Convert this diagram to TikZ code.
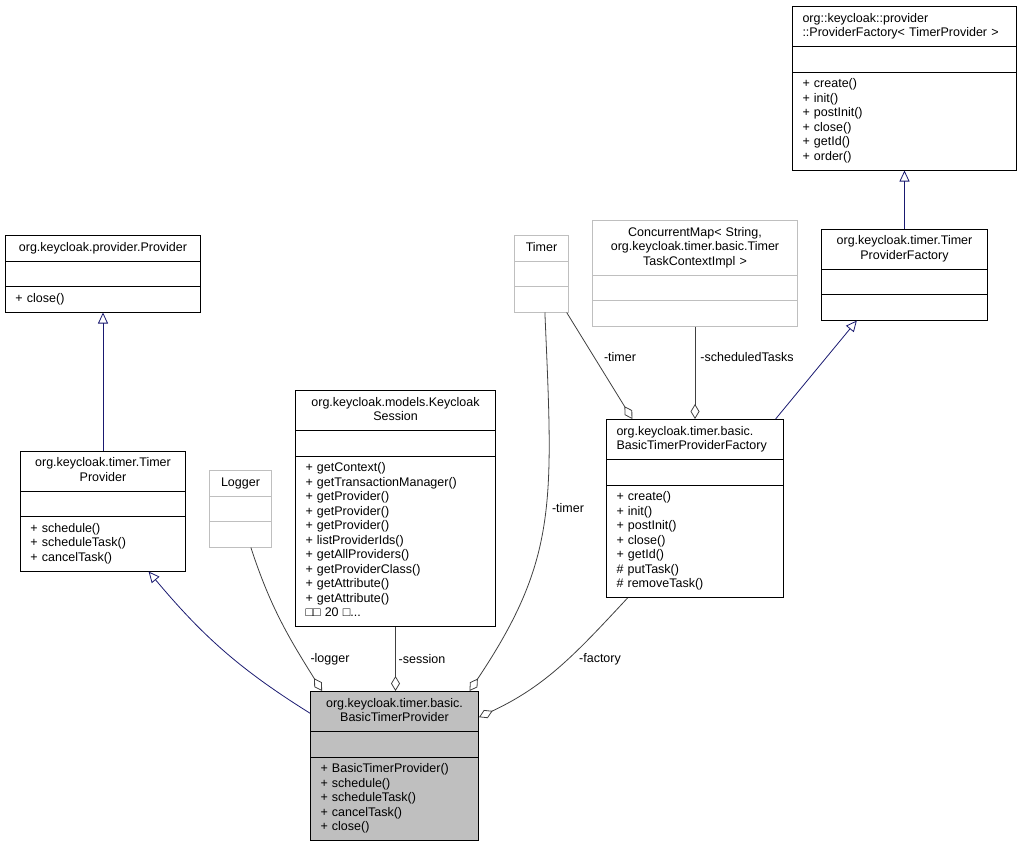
\documentclass[tikz,border=0pt]{standalone}
\usepackage{fontspec}
\setmainfont{Liberation Sans}
\usepackage{tikz}
\usetikzlibrary{positioning,shapes.multipart,arrows.meta}
\definecolor{navy}{HTML}{191970}
\definecolor{edgegrey}{HTML}{404040}
\definecolor{boxgrey}{HTML}{BFBFBF}
\tikzstyle{inherit} = [draw=navy, line width=0.8pt, -{Triangle[open,length=11pt,width=10pt]}]
\tikzstyle{member} = [draw=edgegrey, line width=0.8pt, -{Diamond[open,length=15pt,width=9pt]}]
\tikzstyle{tClass} = [rectangle split, rectangle split parts=3, draw=black, line width=1pt, align=left, inner xsep=10pt, inner ysep=5pt, font=\fontsize{12.5}{14.5}\selectfont, anchor=north west]
\tikzstyle{tExtern} = [tClass, draw=boxgrey]
\tikzstyle{tLabel} = [font=\fontsize{12.5}{14.5}\selectfont, inner sep=0pt]
\newcommand{\classparts}[3][\centering]{#1\strut#2\strut\par\nodepart{two}\strut\nodepart{three}\strut#3\strut}

\begin{document}
\begin{tikzpicture}[x=1pt, y=-1pt]
    \useasboundingbox (0,0) rectangle (1021,847);
    % classes
    \node[tClass, text width=175pt] (provider) at (5,235) {\classparts{org.keycloak.provider.Provider}{+ close()}};
    \node[tClass, text width=145pt, below=138pt of provider] (timerprov) {\classparts{org.keycloak.timer.Timer\\Provider}{+ schedule()\\+ scheduleTask()\\+ cancelTask()}};
    \node[tExtern, text width=42pt] (logger) at (209,470) {\classparts{Logger}{}};
    \node[tClass, text width=180pt] (session) at (295,390) {\classparts{org.keycloak.models.Keycloak\\Session}{+ getContext()\\+ getTransactionManager()\\+ getProvider()\\+ getProvider()\\+ getProvider()\\+ listProviderIds()\\+ getAllProviders()\\+ getProviderClass()\\+ getAttribute()\\+ getAttribute()\\□□ 20 □...}};
    \node[tExtern, text width=34pt] (timer) at (514,235) {\classparts{Timer}{}};
    \node[tExtern, text width=185pt] (cmap) at (592,220) {\classparts{ConcurrentMap< String,\\ org.keycloak.timer.basic.Timer\\TaskContextImpl >}{}};
    \node[tClass, text width=204pt] (pf) at (792,6) {\classparts[]{org::keycloak::provider\\::ProviderFactory< TimerProvider >}{+ create()\\+ init()\\+ postInit()\\+ close()\\+ getId()\\+ order()}};
    \node[tClass, text width=146pt, below=58pt of pf] (tpf) {\classparts{org.keycloak.timer.Timer\\ProviderFactory}{}};
    \node[tClass, text width=157pt] (btpf) at (606,419) {\classparts[]{org.keycloak.timer.basic.\\BasicTimerProviderFactory}{+ create()\\+ init()\\+ postInit()\\+ close()\\+ getId()\\\# putTask()\\\# removeTask()}};
    \node[tClass, text width=148pt, fill=boxgrey] (btp) at (310,691) {\classparts{org.keycloak.timer.basic.\\BasicTimerProvider}{+ BasicTimerProvider()\\+ schedule()\\+ scheduleTask()\\+ cancelTask()\\+ close()}};
    % inheritance
    \draw[inherit] (timerprov) -- (provider);
    \draw[inherit] (btp.148) to[out=148, in=-50] (timerprov.-53);
    \draw[inherit] (tpf) -- (pf);
    \draw[inherit] (btpf.48) -- (tpf.-136);
    % members
    \draw[member] (logger.-75) to[out=-72, in=122] (btp.134);
    \draw[member] (session) -- (session |- btp.north);
    \draw[member] (timer.-85) .. controls +(8,189) and +(89,-133) .. (btp.45);
    \draw[member] (timer.-57) -- (btpf.125);
    \draw[member] (cmap) -- (btpf);
    \draw[member] (btpf.-127) to[out=-133, in=25] (btp.30);
    % labels
    \node[tLabel] (lblLogger) at (330,659) {-logger};
    \node[tLabel] (lblSession) at (422,659) {-session};
    \node[tLabel] (lblTimerA) at (568,508) {-timer};
    \node[tLabel] (lblTimerB) at (620,357) {-timer};
    \node[tLabel] (lblTasks) at (747,357) {-scheduledTasks};
    \node[tLabel] (lblFactory) at (600,659) {-factory};
\end{tikzpicture}
\end{document}
